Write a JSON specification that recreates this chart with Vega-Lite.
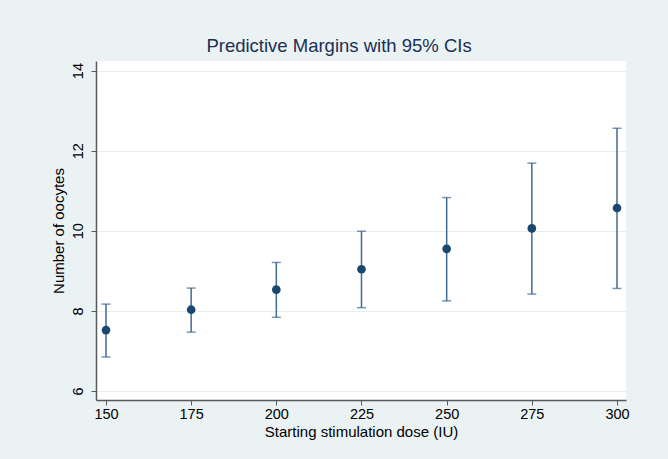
{
  "$schema": "https://vega.github.io/schema/vega-lite/v6.json",
  "width": 530,
  "height": 339,
  "autosize": {"type": "none"},
  "padding": {"left": 96, "top": 61, "right": 42, "bottom": 59},
  "background": "#eaf2f3",
  "title": {
    "text": "Predictive Margins with 95% CIs",
    "font": "Liberation Sans",
    "fontSize": 18.5,
    "fontWeight": "normal",
    "color": "#1c2f55",
    "anchor": "middle",
    "dx": -22,
    "offset": 6
  },
  "data": {
    "values": [
      {"dose": 150, "margin": 7.52, "lower": 6.85, "upper": 8.17},
      {"dose": 175, "margin": 8.03, "lower": 7.47, "upper": 8.57},
      {"dose": 200, "margin": 8.53, "lower": 7.84, "upper": 9.21},
      {"dose": 225, "margin": 9.04, "lower": 8.08, "upper": 9.99},
      {"dose": 250, "margin": 9.55, "lower": 8.25, "upper": 10.83},
      {"dose": 275, "margin": 10.06, "lower": 8.42, "upper": 11.69},
      {"dose": 300, "margin": 10.57, "lower": 8.56, "upper": 12.56}
    ]
  },
  "encoding": {
    "x": {
      "field": "dose",
      "type": "quantitative",
      "scale": {"domain": [147.07, 302.64], "nice": false, "zero": false},
      "axis": {
        "values": [150, 175, 200, 225, 250, 275, 300],
        "title": "Starting stimulation dose (IU)",
        "grid": false,
        "labelPadding": 2,
        "titlePadding": 4
      }
    }
  },
  "layer": [
    {
      "mark": {
        "type": "errorbar",
        "ticks": {"size": 9, "thickness": 1.5, "color": "#3f6a94"},
        "rule": {"strokeWidth": 1.5, "color": "#3f6a94"}
      },
      "encoding": {
        "y": {
          "field": "lower",
          "type": "quantitative",
          "scale": {"domain": [5.775, 14.24], "nice": false, "zero": false},
          "axis": {
            "values": [6, 8, 10, 12, 14],
            "title": "Number of oocytes",
            "labelAngle": -90,
            "labelAlign": "center",
            "labelBaseline": "bottom",
            "labelPadding": 6,
            "titlePadding": 4
          }
        },
        "y2": {"field": "upper"}
      }
    },
    {
      "mark": {"type": "point", "filled": true, "size": 75, "color": "#1a476f", "opacity": 1},
      "encoding": {
        "y": {
          "field": "margin",
          "type": "quantitative",
          "title": "Number of oocytes"
        }
      }
    }
  ],
  "config": {
    "view": {"fill": "white", "stroke": null},
    "axis": {
      "domainColor": "#5a5a5a",
      "domainWidth": 1.5,
      "tickColor": "#5a5a5a",
      "tickSize": 5,
      "tickWidth": 1,
      "labelFont": "Liberation Sans",
      "labelFontSize": 14.5,
      "labelColor": "#000000",
      "titleFont": "Liberation Sans",
      "titleFontSize": 15,
      "titleFontWeight": "normal",
      "titleColor": "#000000",
      "gridColor": "#e6eef1",
      "gridWidth": 1
    }
  }
}
